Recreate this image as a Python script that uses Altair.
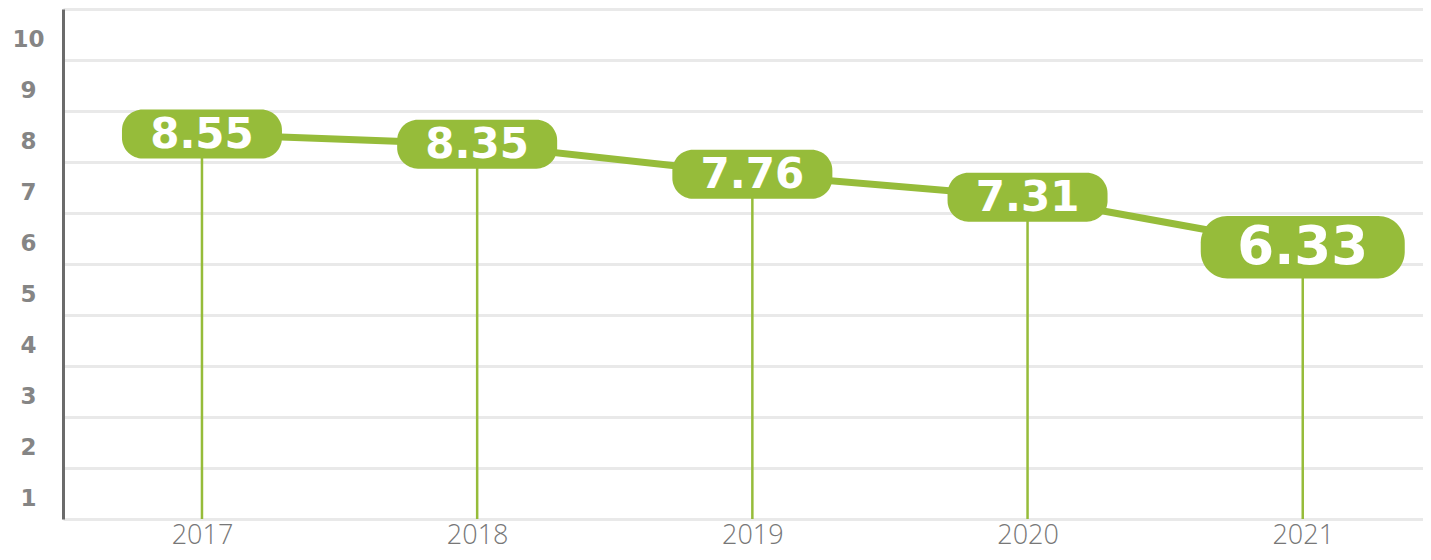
import altair as alt
import pandas as pd

years = [2017, 2018, 2019, 2020, 2021]
values = [8.55, 8.35, 7.76, 7.31, 6.33]
y_ticks = list(range(1, 12))

GREEN = "#96BC3A"

df = pd.DataFrame({"year": years, "value": values})

pill = ("M -0.74,-0.306 L 0.74,-0.306 A 0.26 0.26 0 0 1 1,-0.046 L 1,0.046 "
        "A 0.26 0.26 0 0 1 0.74,0.306 L -0.74,0.306 A 0.26 0.26 0 0 1 -1,0.046 "
        "L -1,-0.046 A 0.26 0.26 0 0 1 -0.74,-0.306 Z")

x_enc = alt.X(
    "year:Q",
    scale=alt.Scale(domain=[2016.495, 2021.437], nice=False, zero=False),
    axis=alt.Axis(values=years, format="d", grid=False, ticks=False, tickSize=0,
                  domain=False, labelFontSize=27, labelFont="Open Sans",
                  labelFontWeight=300, labelColor="#777777", labelPadding=24,
                  labelBaseline="alphabetic", labelFlush=False, title=None),
)
y_enc = alt.Y(
    "value:Q",
    scale=alt.Scale(domain=[1, 11], nice=False, zero=False),
    axis=alt.Axis(values=y_ticks, labelExpr="datum.value > 10 ? '' : datum.label",
                  grid=True, gridColor="#e9e9e9", gridWidth=3,
                  domainColor="#6b6b6b", domainWidth=3, ticks=False, tickSize=0,
                  labelPadding=35, labelAlign="center", labelBaseline="middle",
                  labelOffset=-21, labelFont="DejaVu Sans", labelFontWeight="bold",
                  labelFontSize=23, labelColor="#858585", title=None,
                  minExtent=55, maxExtent=55, labelFlush=False),
)

base = alt.Chart(df)

rules = base.mark_rule(color=GREEN, strokeWidth=2.5).encode(
    x=x_enc, y=y_enc, y2=alt.datum(1)
)
line = base.mark_line(color=GREEN, strokeWidth=7).encode(x=x_enc, y=y_enc)
bubbles = base.mark_point(shape=pill, filled=True, fill=GREEN, opacity=1,
                          strokeWidth=0).encode(
    x=x_enc, y=y_enc,
    size=alt.condition(alt.datum.year == 2021, alt.value(41616), alt.value(25600)),
)
texts = base.mark_text(color="white", font="DejaVu Sans", fontWeight="bold",
                       align="center", baseline="middle", dy=1).encode(
    x=x_enc, y=y_enc,
    text=alt.Text("value:Q", format=".2f"),
    size=alt.condition(alt.datum.year == 2021, alt.value(53), alt.value(42)),
)

chart = alt.layer(rules, line, bubbles, texts).properties(
    width=1360, height=510,
    padding={"left": 55, "top": 1, "right": 0, "bottom": 33},
    autosize=alt.AutoSizeParams(type="none"),
).configure_view(stroke=None)

chart.save("out.html", embed_options={"renderer": "svg", "actions": False})
